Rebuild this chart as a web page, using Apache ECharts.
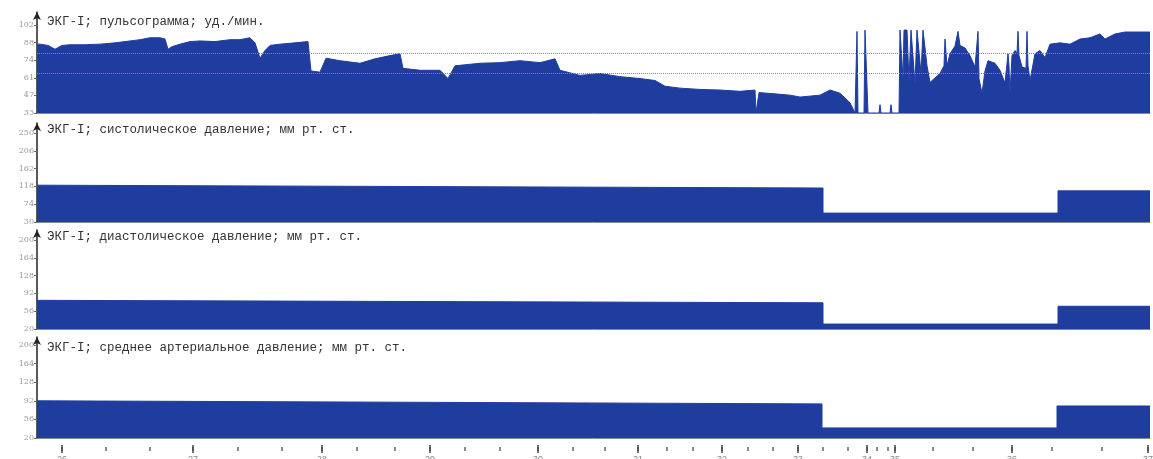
<!DOCTYPE html>
<html>
<head>
<meta charset="utf-8">
<script src="https://cdn.jsdelivr.net/npm/echarts@6/dist/echarts.min.js"></script>
<style>
html,body{margin:0;padding:0;background:#fff;}
#c{width:1153px;height:459px;}
</style>
</head>
<body>
<div id="c"></div>
<script>
// ---- DATA ----
const titles = [
  'ЭКГ-I; пульсограмма; уд./мин.',
  'ЭКГ-I; систолическое давление; мм рт. ст.',
  'ЭКГ-I; диастолическое давление; мм рт. ст.',
  'ЭКГ-I; среднее артериальное давление; мм рт. ст.'
];
// y tick labels per panel
const pulseTicks = [33, 46.8, 60.6, 74.4, 88.2, 102];
const sysTicks = [30, 74, 118, 162, 206, 250];
const diaTicks = [20, 56, 92, 128, 164, 200];
const meanTicks = [20, 56, 92, 128, 164, 200];

// time axis (recording index)
const timeTicks = [25,69,113,156,201,245,285,320,358,393,428,463,501,536,568,601,630,656,685,711,736,761,786,811,830,840,851,858,896,936,975,1015,1065,1111];
const majorTicks = [25,156,285,393,501,601,685,761,830,858,975,1111];
const majorLabels = ['26','27','28','29','30','31','32','33','34','35','36','37'];

// pulse (уд./мин.)
const pulseT = [0,3,11,18,25,33,48,63,78,93,103,113,123,128,131,135,143,153,163,178,193,203,213,218,223,228,233,243,258,271,274,283,289,303,313,323,338,353,363,366,383,403,411,418,443,463,483,503,518,523,543,563,583,603,618,628,643,663,683,703,718,719,721,722,738,753,763,783,793,803,813,818,819,820,821,827,828,830,831,842,843,844,853,854,855,862,863,865,866,867,870,872,874,876,878,880,882,884,886,888,890,893,903,907,908,910,913,918,920,921,923,928,933,938,940,941,942,945,948,951,958,963,968,970,971,972,973,975,978,980,981,982,985,989,990,991,993,998,1003,1008,1013,1023,1033,1043,1053,1063,1068,1078,1088,1113];
const pulseV = [87,87,86,83,86,86.5,86.5,87,88,89.5,90.5,92,92,91,83,85,87,89,89.5,89,90.5,90.5,92,88,76,82,86,87,88,89,66,65,76,74,73,72,75.5,78,79.5,68,66.5,66.5,60,70,72,72.5,74,72.5,75.5,66.5,62.5,64,61.5,60,58.5,54,52.5,51.5,51,50,51,33,33,49,48,47,45.5,47,51,48.5,41,33,33,97,33,33,98,98,33,33,39.5,33,33,39.5,33,33,98,98,60,98,98,58,98,98,56,98,98,64,98,98,70,57,64,70,91,70,79.5,85.5,85,97,86,84,78,69,68,97,60,48.5,66,74,72,66.5,56.5,56,79.5,70,48.5,78,82,80,97,78,69,68,97,70,58.5,79.5,82,76.5,87,88,87,91,92,95,91,95,96.5,96.5];
const pulseLimits = [80, 64];

// systolic
const sysT = [0, 786, 786, 1021, 1021, 1113];
const sysV = [121, 114, 52, 52, 107, 107];
// diastolic
const diaT = [0, 786, 786, 1021, 1021, 1113];
const diaV = [78, 73, 30, 30, 66, 66];
// mean arterial
const meanT = [0, 785, 785, 1020, 1020, 1113];
const meanV = [92, 86, 39.5, 39.5, 82, 82];

// ---- CHART ----
const BLUE = '#1f3d9f';
const zip = (t, v) => t.map((x, i) => [x, v[i]]);
const chart = echarts.init(document.getElementById('c'));

const gridsDef = [
  {top: 12, height: 101, min: 33, max: 112.2, ticks: pulseTicks, titleTop: 10},
  {top: 123, height: 99, min: 30, max: 274.7, ticks: sysTicks, titleTop: 118},
  {top: 230, height: 99, min: 20, max: 220.2, ticks: diaTicks, titleTop: 225},
  {top: 337, height: 101, min: 20, max: 215.5, ticks: meanTicks, titleTop: 336}
];

const grid = gridsDef.map(g => ({left: 37, right: 3, top: g.top, height: g.height, containLabel: false, outerBoundsMode: 'none'}));
const yAxis = gridsDef.map((g, i) => ({
  type: 'value', gridIndex: i, min: g.min, max: g.max,
  splitLine: {show: false},
  axisLine: {show: true, symbol: ['none', 'arrow'], symbolSize: [6, 8], lineStyle: {color: '#222', width: 1.5}},
  axisTick: {show: true, customValues: g.ticks, length: 3, lineStyle: {color: '#666'}},
  axisLabel: {show: true, customValues: g.ticks, formatter: v => String(Math.round(v)), fontSize: 8, color: '#9a9a9a', margin: 3, fontFamily: 'DejaVu Serif'}
}));
const xAxis = gridsDef.map((g, i) => ({
  type: 'value', gridIndex: i, min: 0, max: 1113,
  splitLine: {show: false},
  axisLine: {show: true, lineStyle: {color: '#8a8a8a', width: 1}},
  axisTick: {show: false}, axisLabel: {show: false}
}));
// minor time ticks
xAxis.push({
  type: 'value', gridIndex: 3, min: 0, max: 1113, position: 'bottom', offset: 9,
  splitLine: {show: false},
  axisLine: {show: false},
  axisTick: {show: true, customValues: timeTicks, length: 4, lineStyle: {color: '#666', width: 1.5}},
  axisLabel: {show: false}
});
// major time ticks + labels
xAxis.push({
  type: 'value', gridIndex: 3, min: 0, max: 1113, position: 'bottom', offset: 7,
  splitLine: {show: false},
  axisLine: {show: false},
  axisTick: {show: true, customValues: majorTicks, length: 8, lineStyle: {color: '#444', width: 1.5}},
  axisLabel: {show: true, customValues: majorTicks, formatter: v => majorLabels[majorTicks.indexOf(v)] || '', fontSize: 9, color: '#888', margin: 10}
});

const areaSeries = (data, i) => ({
  type: 'line', xAxisIndex: i, yAxisIndex: i, data: data, symbol: 'none', z: 3,
  lineStyle: {color: BLUE, width: 1}, areaStyle: {color: BLUE, opacity: 1}, itemStyle: {color: BLUE}
});

const series = [
  {
    type: 'line', xAxisIndex: 0, yAxisIndex: 0, data: [], z: 1, symbol: 'none',
    markLine: {silent: true, symbol: 'none', label: {show: false},
      lineStyle: {type: 'dotted', color: '#8a8a8a', width: 1},
      data: pulseLimits.map(v => ({yAxis: v}))}
  },
  areaSeries(zip(pulseT, pulseV), 0),
  areaSeries(zip(sysT, sysV), 1),
  areaSeries(zip(diaT, diaV), 2),
  areaSeries(zip(meanT, meanV), 3)
];

const title = titles.map((t, i) => ({
  text: t, left: 42, top: gridsDef[i].titleTop,
  textStyle: {fontFamily: 'Liberation Mono', fontSize: 12.5, fontWeight: 'normal', color: '#333'}
}));

chart.setOption({animation: false, backgroundColor: '#fff', title, grid, xAxis, yAxis, series});
</script>
</body>
</html>
